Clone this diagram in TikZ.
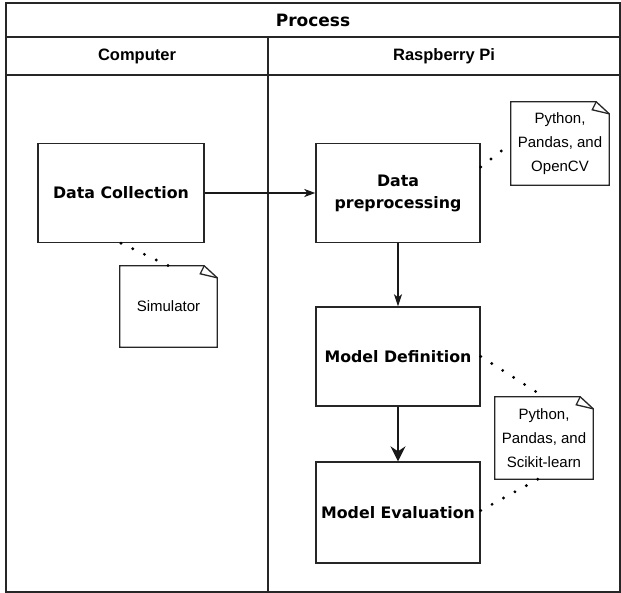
\documentclass[tikz,border=0pt]{standalone}
\usepackage{fontspec}
\setmainfont{Liberation Sans}
\newfontfamily\dejavu{DejaVu Sans}
\usetikzlibrary{arrows.meta}
\newcommand\drawnote[1]{%
  \draw[noteline] (#1.north west) -- ([xshift=-13pt]#1.north east) -- ([yshift=-12pt]#1.north east) -- (#1.south east) -- (#1.south west) -- cycle;
  \draw[noteline] ([xshift=-13pt]#1.north east) -- ([xshift=-17pt,yshift=-8pt]#1.north east) -- ([yshift=-12pt]#1.north east);}
\tikzset{
  frame/.style={line width=1.7pt, draw=black!85},
  title/.style={font=\dejavu\bfseries\fontsize{17}{20}\selectfont, inner sep=0pt},
  hdr/.style={font=\bfseries\fontsize{16.5}{19}\selectfont, inner sep=0pt},
  procbox/.style={draw=black!85, line width=1.4pt, fill=white, inner sep=0pt, align=center,
    font=\dejavu\bfseries\fontsize{15.8}{22}\selectfont},
  notebox/.style={inner sep=0pt, align=center, font=\fontsize{15}{24}\selectfont},
  noteline/.style={draw=black!85, line width=1.3pt, line join=miter},
  flow/.style={line width=1.6pt, draw=black!90},
  dots/.style={line width=3.2pt, line cap=round, dash pattern=on 0pt off 13pt, draw=black}
}
\begin{document}
\begin{tikzpicture}[x=1pt,y=-1pt]
\useasboundingbox (0,0) rectangle (621,593);
\fill[white] (0,0) rectangle (621,593);
\draw[frame] (6,3) rectangle (620,592);
\draw[frame] (6,37) -- (620,37);
\draw[frame] (6,75) -- (620,75);
\draw[frame] (268,37) -- (268,592);
\node[title] (proc) at (313,20) {Process};
\node[hdr] (comp) at (137,56) {Computer};
\node[hdr] (rpi) at (444,56) {Raspberry Pi};

\node[procbox, minimum width=166pt, minimum height=99pt] (dc) at (121,193) {Data Collection};
\node[procbox, minimum width=164pt, minimum height=99pt] (pre) at (398,193) {Data\\preprocessing};
\node[procbox, minimum width=164pt, minimum height=99pt] (md) at (398,356.5) {Model Definition};
\node[procbox, minimum width=164pt, minimum height=101pt] (me) at (398,512.5) {Model Evaluation};

\node[notebox, minimum width=97pt, minimum height=81pt] (sim) at (168.5,306.5) {Simulator};
\node[notebox, minimum width=98pt, minimum height=83pt] (ocv) at (560,143.5) {Python,\\Pandas, and\\OpenCV};
\node[notebox, minimum width=98pt, minimum height=82pt] (sci) at (544,438) {Python,\\Pandas, and\\Scikit-learn};
\drawnote{sim}
\drawnote{ocv}
\drawnote{sci}

\draw[flow, -{Stealth[length=11pt, width=8pt, inset=3pt]}] (dc.east) -- (pre.west);
\draw[flow, -{Stealth[length=12pt, width=8pt, inset=3pt]}] (pre.south) -- (md.north);
\draw[flow, -{Stealth[length=15pt, width=15pt, inset=5pt]}] (md.south) -- (me.north);

\draw[dots] (dc.south) -- (sim.north);
\draw[dots] ([yshift=26pt]pre.east) -- (ocv.west);
\draw[dots] (md.east) -- (sci.north);
\draw[dots] ([yshift=2pt]me.east) -- ([xshift=-6pt]sci.south);
\end{tikzpicture}
\end{document}
